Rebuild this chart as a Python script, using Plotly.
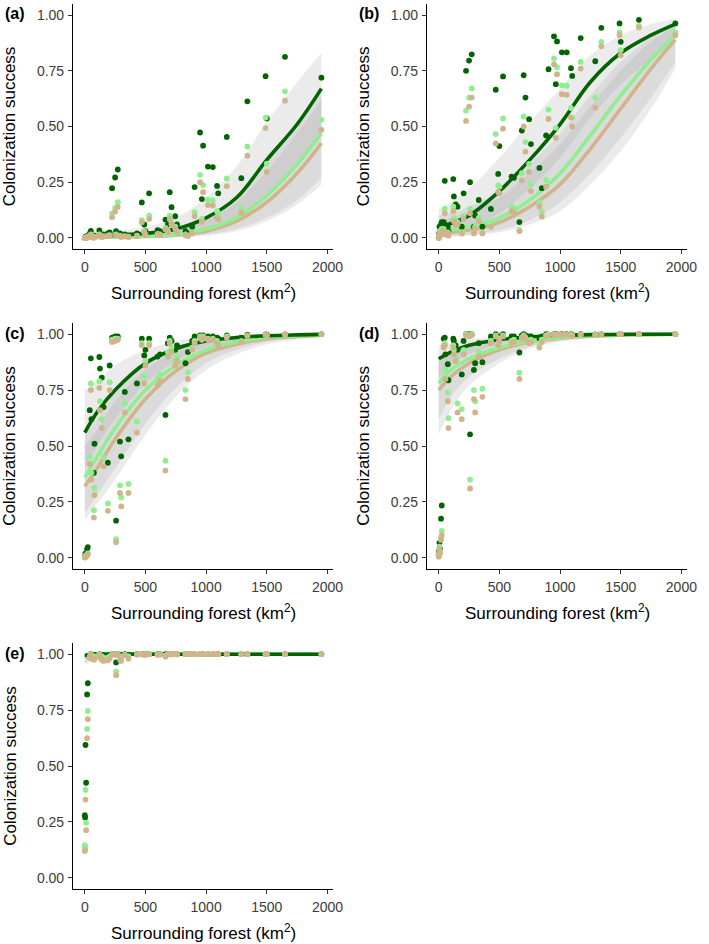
import plotly.graph_objects as go

# ---------------- data ----------------
SITES = [0, 3, 6, 11, 19, 25, 41, 50, 55, 75,
         80, 120, 125, 140, 155, 190, 205, 225, 250, 258,
         272, 290, 300, 330, 360, 430, 470, 490, 500, 530,
         600, 620, 665, 685, 700, 715, 745, 760, 830, 850,
         885, 905, 950, 965, 975, 1015, 1055, 1090, 1100, 1170,
         1290, 1340, 1490, 1500, 1650, 1950]

a_dark = [0.0, 0.0, 0.005, 0.0, 0.005, 0.01, 0.02, 0.031, 0.01, 0.005,
          0.01, 0.033, 0.02, 0.01, 0.015, 0.02, 0.025, 0.223, 0.271, 0.03,
          0.307, 0.02, 0.01, 0.015, 0.01, 0.02, 0.159, 0.06, 0.03, 0.2,
          0.035, 0.03, 0.082, 0.06, 0.205, 0.138, 0.097, 0.06, 0.03, 0.02,
          0.05, 0.228, 0.473, 0.174, 0.414, 0.32, 0.318, 0.233, 0.2, 0.453,
          0.268, 0.613, 0.726, 0.536, 0.813, 0.719]
a_light = [0.0, 0.0, 0.002, 0.0, 0.002, 0.005, 0.01, 0.015, 0.005, 0.002,
           0.005, 0.015, 0.01, 0.005, 0.008, 0.01, 0.012, 0.11, 0.135, 0.015,
           0.16, 0.01, 0.005, 0.008, 0.005, 0.01, 0.08, 0.03, 0.015, 0.1,
           0.018, 0.015, 0.045, 0.03, 0.1, 0.07, 0.05, 0.03, 0.015, 0.01,
           0.025, 0.115, 0.283, 0.085, 0.237, 0.17, 0.168, 0.12, 0.11, 0.267,
           0.135, 0.41, 0.54, 0.333, 0.658, 0.53]
a_tan = [0.0, 0.0, 0.0, 0.0, 0.0, 0.003, 0.008, 0.012, 0.004, 0.0,
         0.004, 0.012, 0.008, 0.004, 0.006, 0.008, 0.01, 0.093, 0.118, 0.012,
         0.139, 0.008, 0.004, 0.006, 0.004, 0.008, 0.07, 0.025, 0.012, 0.085,
         0.015, 0.012, 0.038, 0.025, 0.085, 0.06, 0.042, 0.025, 0.012, 0.008,
         0.02, 0.097, 0.25, 0.072, 0.205, 0.147, 0.145, 0.09, 0.085, 0.232,
         0.113, 0.369, 0.493, 0.296, 0.616, 0.485]

b_dark = [0.0, 0.02, 0.05, 0.03, 0.06, 0.07, 0.07, 0.256, 0.04, 0.05,
          0.03, 0.264, 0.186, 0.15, 0.14, 0.05, 0.2, 0.75, 0.796, 0.25,
          0.824, 0.05, 0.1, 0.17, 0.05, 0.13, 0.665, 0.287, 0.412, 0.725,
          0.275, 0.27, 0.071, 0.482, 0.73, 0.63, 0.533, 0.421, 0.314, 0.223,
          0.46, 0.757, 0.905, 0.69, 0.882, 0.833, 0.833, 0.762, 0.727, 0.897,
          0.793, 0.943, 0.963, 0.88, 0.979, 0.963]
b_light = [0.0, 0.01, 0.03, 0.015, 0.03, 0.04, 0.04, 0.13, 0.02, 0.025,
           0.015, 0.14, 0.09, 0.07, 0.07, 0.025, 0.1, 0.571, 0.63, 0.13,
           0.671, 0.025, 0.05, 0.09, 0.025, 0.06, 0.466, 0.235, 0.23, 0.536,
           0.14, 0.135, 0.035, 0.29, 0.545, 0.43, 0.332, 0.24, 0.16, 0.115,
           0.26, 0.576, 0.806, 0.494, 0.766, 0.685, 0.683, 0.583, 0.54, 0.79,
           0.63, 0.88, 0.923, 0.843, 0.952, 0.922]
b_tan = [0.0, 0.005, 0.02, 0.01, 0.02, 0.03, 0.03, 0.11, 0.015, 0.02,
         0.01, 0.12, 0.075, 0.06, 0.06, 0.02, 0.085, 0.525, 0.589, 0.11,
         0.63, 0.02, 0.04, 0.075, 0.02, 0.05, 0.424, 0.205, 0.2, 0.49,
         0.12, 0.115, 0.03, 0.258, 0.5, 0.387, 0.296, 0.21, 0.14, 0.096,
         0.23, 0.534, 0.78, 0.449, 0.735, 0.645, 0.642, 0.54, 0.5, 0.76,
         0.585, 0.86, 0.91, 0.82, 0.945, 0.91]

c_dark = [0.005, 0.01, 0.02, 0.015, 0.04, 0.048, 0.66, 0.892, 0.62, 0.38,
          0.51, 0.898, 0.846, 0.806, 0.674, 0.425, 0.86, 0.985, 0.99, 0.166,
          0.99, 0.52, 0.454, 0.742, 0.53, 0.78, 0.98, 0.905, 0.93, 0.98,
          0.9, 0.91, 0.639, 0.96, 0.985, 0.97, 0.93, 0.95, 0.87, 0.92,
          0.97, 0.99, 0.995, 0.99, 0.995, 0.99, 0.99, 0.985, 0.98, 0.995,
          0.985, 0.998, 0.999, 0.998, 0.999, 1.0]
c_light = [0.002, 0.005, 0.01, 0.008, 0.015, 0.02, 0.45, 0.78, 0.38, 0.213,
           0.313, 0.79, 0.70, 0.62, 0.45, 0.243, 0.785, 0.975, 0.98, 0.083,
           0.98, 0.324, 0.27, 0.69, 0.33, 0.61, 0.96, 0.81, 0.88, 0.96,
           0.8, 0.82, 0.434, 0.92, 0.97, 0.94, 0.88, 0.9, 0.75, 0.83,
           0.94, 0.97, 0.99, 0.98, 0.99, 0.98, 0.98, 0.97, 0.96, 0.99,
           0.97, 0.995, 0.998, 0.995, 0.998, 1.0]
c_tan = [0.001, 0.003, 0.006, 0.005, 0.01, 0.015, 0.42, 0.75, 0.35, 0.18,
         0.28, 0.76, 0.66, 0.58, 0.41, 0.21, 0.75, 0.965, 0.97, 0.07,
         0.975, 0.29, 0.23, 0.65, 0.29, 0.56, 0.95, 0.78, 0.86, 0.95,
         0.77, 0.79, 0.39, 0.9, 0.96, 0.92, 0.86, 0.88, 0.71, 0.8,
         0.93, 0.96, 0.985, 0.975, 0.985, 0.975, 0.975, 0.96, 0.95, 0.985,
         0.965, 0.993, 0.997, 0.993, 0.997, 1.0]

d_dark = [0.015, 0.03, 0.067, 0.04, 0.175, 0.234, 0.98, 0.985, 0.91, 0.866,
          0.794, 0.98, 0.97, 0.95, 0.93, 0.82, 0.97, 1.0, 1.0, 0.552,
          1.0, 0.84, 0.87, 0.96, 0.875, 0.99, 1.0, 0.98, 0.99, 1.0,
          0.99, 0.99, 0.918, 0.995, 1.0, 0.995, 0.99, 0.99, 0.98, 0.99,
          1.0, 0.998, 1.0, 0.999, 1.0, 1.0, 1.0, 0.999, 0.999, 1.0,
          0.999, 1.0, 1.0, 1.0, 1.0, 1.0]
d_light = [0.01, 0.02, 0.05, 0.03, 0.09, 0.12, 0.95, 0.96, 0.84, 0.74,
           0.624, 0.95, 0.93, 0.9, 0.69, 0.665, 0.93, 1.0, 0.995, 0.35,
           1.0, 0.75, 0.7, 0.92, 0.756, 0.97, 0.995, 0.96, 0.98, 0.995,
           0.97, 0.975, 0.828, 0.985, 0.995, 0.985, 0.97, 0.975, 0.96, 0.975,
           0.995, 0.998, 0.999, 0.998, 0.999, 0.998, 0.998, 0.997, 0.997, 0.999,
           0.998, 1.0, 1.0, 1.0, 1.0, 1.0]
d_tan = [0.005, 0.015, 0.04, 0.02, 0.08, 0.1, 0.94, 0.95, 0.8, 0.7,
         0.58, 0.94, 0.91, 0.88, 0.65, 0.62, 0.91, 0.995, 0.99, 0.31,
         0.995, 0.71, 0.65, 0.9, 0.72, 0.96, 0.99, 0.95, 0.97, 0.99,
         0.96, 0.965, 0.8, 0.98, 0.99, 0.98, 0.96, 0.965, 0.94, 0.965,
         0.99, 0.995, 0.998, 0.996, 0.998, 0.997, 0.997, 0.995, 0.995, 0.998,
         0.996, 0.999, 1.0, 0.999, 1.0, 1.0]

e_dark = [0.28, 0.27, 0.594, 0.425, 0.82, 0.87, 0.995, 1.0, 0.998, 0.995,
          0.997, 1.0, 0.998, 0.997, 0.996, 0.995, 0.998, 1.0, 1.0, 0.963,
          1.0, 0.997, 0.996, 1.0, 0.997, 1.0, 1.0, 1.0, 1.0, 1.0,
          1.0, 1.0, 1.0, 1.0, 1.0, 1.0, 1.0, 1.0, 1.0, 1.0,
          1.0, 1.0, 1.0, 1.0, 1.0, 1.0, 1.0, 1.0, 1.0, 1.0,
          1.0, 1.0, 1.0, 1.0, 1.0, 1.0]
e_light = [0.146, 0.14, 0.393, 0.246, 0.666, 0.746, 0.99, 1.0, 0.99, 0.985,
           0.99, 1.0, 0.995, 0.99, 0.985, 0.985, 0.99, 1.0, 1.0, 0.922,
           1.0, 0.99, 0.985, 0.998, 0.99, 0.999, 1.0, 0.999, 1.0, 1.0,
           0.999, 1.0, 0.995, 1.0, 1.0, 1.0, 1.0, 1.0, 1.0, 1.0,
           1.0, 1.0, 1.0, 1.0, 1.0, 1.0, 1.0, 1.0, 1.0, 1.0,
           1.0, 1.0, 1.0, 1.0, 1.0, 1.0]
e_tan = [0.12, 0.125, 0.35, 0.213, 0.624, 0.709, 0.985, 0.998, 0.98, 0.975,
         0.98, 0.998, 0.985, 0.975, 0.97, 0.972, 0.98, 0.998, 0.997, 0.906,
         0.998, 0.975, 0.97, 0.995, 0.98, 0.997, 0.999, 0.997, 0.998, 0.999,
         0.997, 0.998, 0.988, 0.999, 1.0, 0.999, 1.0, 0.999, 1.0, 1.0,
         1.0, 1.0, 1.0, 1.0, 1.0, 1.0, 1.0, 1.0, 1.0, 1.0,
         1.0, 1.0, 1.0, 1.0, 1.0, 1.0]

# fitted curves and confidence bands on a common grid
GRID = [0, 100, 250, 500, 750, 1000, 1250, 1500, 1750, 1950]

a_fit_dark = [0.005, 0.008, 0.012, 0.02, 0.04, 0.09, 0.18, 0.35, 0.51, 0.67]
a_fit_light = [0.002, 0.003, 0.005, 0.008, 0.015, 0.04, 0.09, 0.19, 0.33, 0.47]
a_fit_tan = [0.001, 0.002, 0.004, 0.006, 0.012, 0.03, 0.075, 0.16, 0.29, 0.425]
a_lo_dark = [0.0, 0.001, 0.003, 0.006, 0.015, 0.04, 0.09, 0.2, 0.33, 0.48]
a_hi_dark = [0.02, 0.025, 0.03, 0.05, 0.09, 0.18, 0.32, 0.52, 0.70, 0.83]
a_lo_light = [0.0, 0.0, 0.001, 0.002, 0.005, 0.015, 0.04, 0.09, 0.17, 0.27]
a_hi_light = [0.01, 0.012, 0.015, 0.025, 0.045, 0.09, 0.19, 0.34, 0.52, 0.68]
a_lo_tan = [0.0, 0.0, 0.0, 0.001, 0.004, 0.01, 0.03, 0.075, 0.15, 0.24]
a_hi_tan = [0.008, 0.01, 0.012, 0.02, 0.04, 0.08, 0.16, 0.30, 0.47, 0.62]

b_fit_dark = [0.05, 0.065, 0.10, 0.21, 0.35, 0.51, 0.70, 0.83, 0.91, 0.96]
b_fit_light = [0.03, 0.035, 0.05, 0.09, 0.17, 0.29, 0.46, 0.64, 0.80, 0.91]
b_fit_tan = [0.02, 0.025, 0.035, 0.07, 0.14, 0.24, 0.40, 0.58, 0.76, 0.89]
b_lo_dark = [0.01, 0.02, 0.04, 0.11, 0.22, 0.36, 0.54, 0.69, 0.80, 0.88]
b_hi_dark = [0.13, 0.16, 0.22, 0.36, 0.52, 0.67, 0.82, 0.91, 0.96, 0.985]
b_lo_light = [0.005, 0.008, 0.015, 0.035, 0.08, 0.16, 0.29, 0.45, 0.63, 0.79]
b_hi_light = [0.10, 0.11, 0.14, 0.21, 0.33, 0.47, 0.64, 0.79, 0.90, 0.96]
b_lo_tan = [0.003, 0.005, 0.01, 0.025, 0.06, 0.12, 0.24, 0.39, 0.58, 0.76]
b_hi_tan = [0.08, 0.09, 0.12, 0.18, 0.29, 0.42, 0.59, 0.75, 0.88, 0.95]

c_fit_dark = [0.56, 0.65, 0.75, 0.87, 0.935, 0.97, 0.985, 0.993, 0.997, 0.999]
c_fit_light = [0.36, 0.45, 0.58, 0.75, 0.86, 0.93, 0.965, 0.985, 0.993, 0.997]
c_fit_tan = [0.32, 0.40, 0.53, 0.71, 0.835, 0.915, 0.955, 0.98, 0.99, 0.996]
c_lo_dark = [0.40, 0.50, 0.62, 0.78, 0.88, 0.94, 0.97, 0.985, 0.993, 0.997]
c_hi_dark = [0.75, 0.79, 0.86, 0.93, 0.97, 0.985, 0.994, 0.997, 0.999, 1.0]
c_lo_light = [0.20, 0.28, 0.40, 0.60, 0.76, 0.87, 0.93, 0.965, 0.982, 0.99]
c_hi_light = [0.55, 0.62, 0.74, 0.86, 0.93, 0.965, 0.985, 0.993, 0.997, 0.999]
c_lo_tan = [0.17, 0.24, 0.35, 0.55, 0.72, 0.84, 0.91, 0.955, 0.975, 0.987]
c_hi_tan = [0.50, 0.57, 0.70, 0.84, 0.92, 0.96, 0.98, 0.991, 0.996, 0.999]

d_fit_dark = [0.89, 0.92, 0.95, 0.975, 0.988, 0.995, 0.998, 0.999, 1.0, 1.0]
d_fit_light = [0.78, 0.84, 0.89, 0.94, 0.97, 0.985, 0.993, 0.997, 0.999, 1.0]
d_fit_tan = [0.75, 0.81, 0.87, 0.93, 0.965, 0.982, 0.991, 0.996, 0.998, 1.0]
d_lo_dark = [0.80, 0.86, 0.91, 0.955, 0.978, 0.99, 0.995, 0.998, 0.999, 1.0]
d_hi_dark = [0.95, 0.96, 0.975, 0.988, 0.995, 0.998, 0.999, 1.0, 1.0, 1.0]
d_lo_light = [0.62, 0.72, 0.81, 0.89, 0.945, 0.972, 0.986, 0.993, 0.997, 0.999]
d_hi_light = [0.90, 0.92, 0.945, 0.97, 0.985, 0.993, 0.997, 0.999, 1.0, 1.0]
d_lo_tan = [0.55, 0.66, 0.77, 0.87, 0.935, 0.966, 0.982, 0.991, 0.996, 0.998]
d_hi_tan = [0.89, 0.91, 0.94, 0.965, 0.982, 0.992, 0.996, 0.998, 0.999, 1.0]

e_fit_dark = [0.995, 0.999, 1.0, 1.0, 1.0, 1.0, 1.0, 1.0, 1.0, 1.0]
e_fit_light = [0.99, 0.998, 1.0, 1.0, 1.0, 1.0, 1.0, 1.0, 1.0, 1.0]
e_fit_tan = [0.985, 0.997, 1.0, 1.0, 1.0, 1.0, 1.0, 1.0, 1.0, 1.0]
e_lo_dark = [0.98, 0.997, 0.999, 1.0, 1.0, 1.0, 1.0, 1.0, 1.0, 1.0]
e_hi_dark = [1.0, 1.0, 1.0, 1.0, 1.0, 1.0, 1.0, 1.0, 1.0, 1.0]
e_lo_light = [0.96, 0.99, 0.998, 1.0, 1.0, 1.0, 1.0, 1.0, 1.0, 1.0]
e_hi_light = [1.0, 1.0, 1.0, 1.0, 1.0, 1.0, 1.0, 1.0, 1.0, 1.0]
e_lo_tan = [0.95, 0.985, 0.997, 1.0, 1.0, 1.0, 1.0, 1.0, 1.0, 1.0]
e_hi_tan = [1.0, 1.0, 1.0, 1.0, 1.0, 1.0, 1.0, 1.0, 1.0, 1.0]

PANEL_LABELS = ["(a)", "(b)", "(c)", "(d)", "(e)"]
Y_TICKS = [0, 0.25, 0.5, 0.75, 1.0]
Y_TICKTEXT = ["0.00", "0.25", "0.50", "0.75", "1.00"]
X_TICKS = [0, 500, 1000, 1500, 2000]
X_TITLE = "Surrounding forest (km<sup>2</sup>)"
Y_TITLE = "Colonization success"

# ---------------- styling / layout ----------------
W, H = 709, 944
COL_DARK = "#006400"
COL_LIGHT = "#90EE90"
COL_TAN = "#D2B48C"
BAND = "rgba(153,153,153,0.2)"
FONT = "Liberation Sans, Arial, sans-serif"

# panel pixel boxes: (left, right, top, bottom)
BOXES = [(74, 338, 4, 249), (433, 697, 4, 249),
         (74, 338, 323, 569), (433, 697, 323, 569),
         (74, 338, 643, 889)]

panels = [
    (a_dark, a_light, a_tan, a_fit_dark, a_fit_light, a_fit_tan,
     a_lo_dark, a_hi_dark, a_lo_light, a_hi_light, a_lo_tan, a_hi_tan),
    (b_dark, b_light, b_tan, b_fit_dark, b_fit_light, b_fit_tan,
     b_lo_dark, b_hi_dark, b_lo_light, b_hi_light, b_lo_tan, b_hi_tan),
    (c_dark, c_light, c_tan, c_fit_dark, c_fit_light, c_fit_tan,
     c_lo_dark, c_hi_dark, c_lo_light, c_hi_light, c_lo_tan, c_hi_tan),
    (d_dark, d_light, d_tan, d_fit_dark, d_fit_light, d_fit_tan,
     d_lo_dark, d_hi_dark, d_lo_light, d_hi_light, d_lo_tan, d_hi_tan),
    (e_dark, e_light, e_tan, e_fit_dark, e_fit_light, e_fit_tan,
     e_lo_dark, e_hi_dark, e_lo_light, e_hi_light, e_lo_tan, e_hi_tan),
]

fig = go.Figure()
layout = dict(width=W, height=H, autosize=False,
              margin=dict(l=0, r=0, t=0, b=0),
              paper_bgcolor="white", plot_bgcolor="white",
              showlegend=False, font=dict(family=FONT, size=14))
annotations = []

xmin, xmax = min(SITES), max(SITES)
xpad = 0.05 * (xmax - xmin)

for i, (box, data) in enumerate(zip(BOXES, panels)):
    k = i + 1
    xa = "x" if k == 1 else f"x{k}"
    ya = "y" if k == 1 else f"y{k}"
    (pd_, pl_, pt_, fd, fl, ft, lod, hid, lol, hil, lot, hit) = data
    # confidence bands
    for lo, hi in [(lod, hid), (lol, hil), (lot, hit)]:
        fig.add_trace(go.Scatter(x=GRID, y=lo, mode="lines", xaxis=xa, yaxis=ya,
                                 line=dict(width=0, shape="spline"), hoverinfo="skip"))
        fig.add_trace(go.Scatter(x=GRID, y=hi, mode="lines", xaxis=xa, yaxis=ya,
                                 line=dict(width=0, shape="spline"), fill="tonexty",
                                 fillcolor=BAND, hoverinfo="skip"))
    # fitted lines (dark on top)
    for fit, col in [(ft, COL_TAN), (fl, COL_LIGHT), (fd, COL_DARK)]:
        fig.add_trace(go.Scatter(x=GRID, y=fit, mode="lines", xaxis=xa, yaxis=ya,
                                 line=dict(color=col, width=3.6, shape="spline"),
                                 hoverinfo="skip"))
    # observed points
    for pts, col in [(pd_, COL_DARK), (pl_, COL_LIGHT), (pt_, COL_TAN)]:
        fig.add_trace(go.Scatter(x=SITES, y=pts, mode="markers", xaxis=xa, yaxis=ya,
                                 marker=dict(color=col, size=5.8, line=dict(width=0))))

    l, r, t, b = box
    xdom = [l / W, r / W]
    ydom = [1 - b / H, 1 - t / H]
    axis_common = dict(showline=True, linecolor="black", linewidth=1,
                       ticks="outside", ticklen=4, tickwidth=1, tickcolor="#333333",
                       ticklabelstandoff=1,
                       showgrid=False, zeroline=False,
                       tickfont=dict(family=FONT, size=14, color="#3c3c3c"))
    layout["xaxis" if k == 1 else f"xaxis{k}"] = dict(
        domain=xdom, anchor=ya, range=[xmin - xpad, xmax + xpad],
        tickvals=X_TICKS, **axis_common)
    layout["yaxis" if k == 1 else f"yaxis{k}"] = dict(
        domain=ydom, anchor=xa, range=[-0.05, 1.05],
        tickvals=Y_TICKS, ticktext=Y_TICKTEXT, **axis_common)

    # axis titles and panel label
    annotations.append(dict(text=X_TITLE, xref="paper", yref="paper",
                            x=(l + r) / 2 / W, y=1 - (b + 43) / H,
                            xanchor="center", yanchor="middle", showarrow=False,
                            font=dict(family=FONT, size=17, color="black")))
    annotations.append(dict(text=Y_TITLE, xref="paper", yref="paper",
                            x=(l - 64) / W, y=1 - (t + b) / 2 / H, textangle=-90,
                            xanchor="center", yanchor="middle", showarrow=False,
                            font=dict(family=FONT, size=17, color="black")))
    annotations.append(dict(text="<b>" + PANEL_LABELS[i] + "</b>", xref="paper", yref="paper",
                            x=(l - 71) / W, y=1 - (t + 10) / H,
                            xanchor="left", yanchor="middle", showarrow=False,
                            font=dict(family=FONT, size=16, color="black")))

layout["annotations"] = annotations
fig.update_layout(**layout)
fig.write_html("out.html",
               config={"displayModeBar": False, "staticPlot": True},
               post_script="document.body.style.margin='0px';"
                           "document.body.style.padding='0px';")
